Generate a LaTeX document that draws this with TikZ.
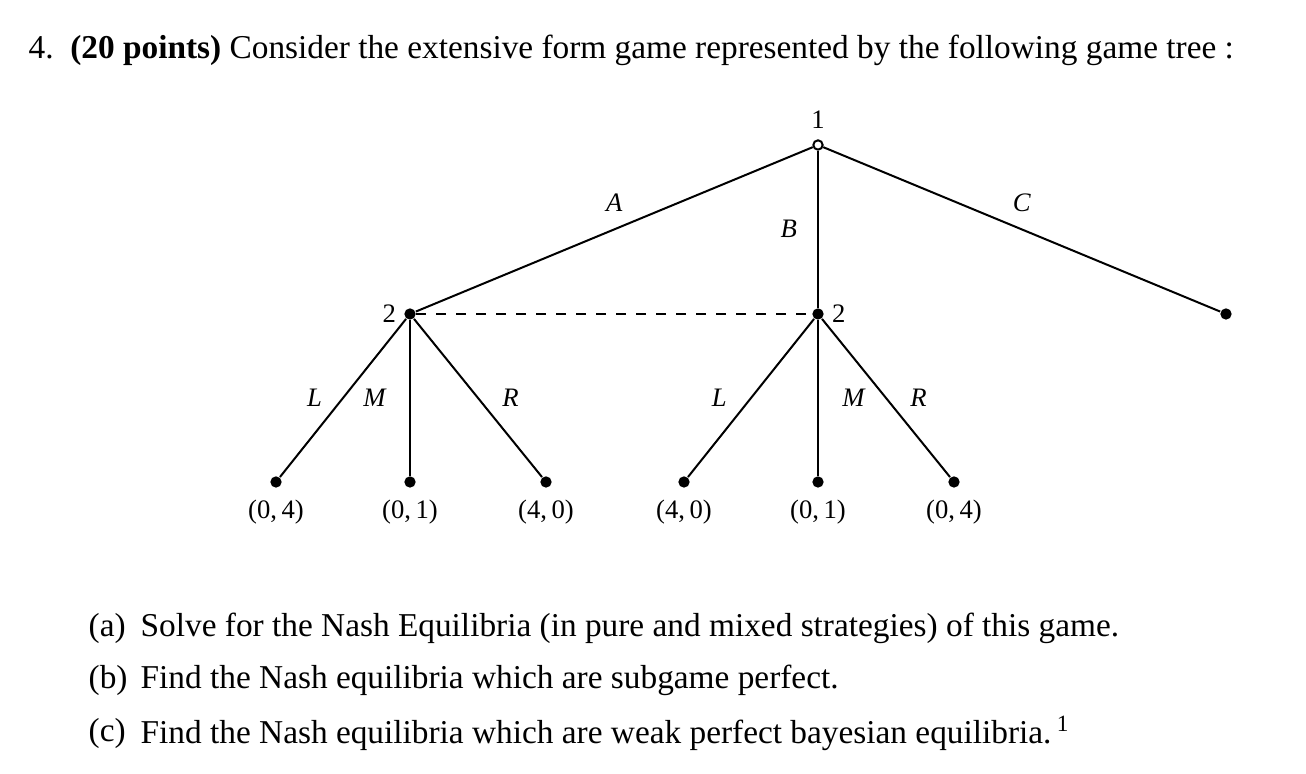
\documentclass[tikz,border=0pt]{standalone}
\usepackage{fontspec}
\setmainfont{Liberation Serif}
\usepackage{tikz}
\tikzset{
  decision/.style={circle,fill,inner sep=0pt,minimum size=3.4pt},
  rootnode/.style={circle,draw,fill=white,inner sep=0pt,minimum size=2.8pt,line width=0.6pt},
  payoff/.style={font=\footnotesize,inner sep=1pt},
  move/.style={font=\footnotesize\itshape,inner sep=2pt},
  branch/.style={line width=0.6pt},
}

\begin{document}
\begin{tikzpicture}[x=0.3pt,y=-0.3pt]
	\useasboundingbox (0,0) rectangle (1306,774);
	% question
	\node[anchor=west,inner sep=0pt] (question) at (28,50) {4.\ \ \textbf{(20 points)} Consider the extensive form game represented by the following game tree :};
	% tree
	\node[rootnode] (root) at (818,145) {};
	\node[payoff] (root label) at (818,120) {1};
	\node[decision] (p2 left) at (410,314) {};
	\node[decision] (p2 right) at (818,314) {};
	\node[decision] (end C) at (1226,314) {};
	\node[payoff,left=3pt] (p2 left label) at (p2 left) {2};
	\node[payoff,right=3pt] (p2 right label) at (p2 right) {2};
	\draw[branch] (root) -- node[move,above=3pt]{A} (p2 left);
	\draw[branch] (root) -- node[move,left=4pt]{B} (p2 right);
	\draw[branch] (root) -- node[move,above=3pt]{C} (end C);
	\draw[branch,dashed] (p2 left) -- (p2 right);
	\node[decision] (leaf1) at (276,482) {};
	\node[decision] (leaf2) at (410,482) {};
	\node[decision] (leaf3) at (546,482) {};
	\node[decision] (leaf4) at (684,482) {};
	\node[decision] (leaf5) at (818,482) {};
	\node[decision] (leaf6) at (954,482) {};
	\draw[branch] (p2 left) -- node[move,left=4pt]{L} (leaf1);
	\draw[branch] (p2 left) -- node[move,left=5pt]{M} (leaf2);
	\draw[branch] (p2 left) -- node[move,right=5pt]{R} (leaf3);
	\draw[branch] (p2 right) -- node[move,left=5pt]{L} (leaf4);
	\draw[branch] (p2 right) -- node[move,right=5pt]{M} (leaf5);
	\draw[branch] (p2 right) -- node[move,right=5pt]{R} (leaf6);
	\node[payoff] (pay1) at (276,512) {(0,\,4)};
	\node[payoff] (pay2) at (410,512) {(0,\,1)};
	\node[payoff] (pay3) at (546,512) {(4,\,0)};
	\node[payoff] (pay4) at (684,512) {(4,\,0)};
	\node[payoff] (pay5) at (818,512) {(0,\,1)};
	\node[payoff] (pay6) at (954,512) {(0,\,4)};
	% parts
	\node[anchor=west,inner sep=0pt] (part a) at (88,628) {(a)};
	\node[anchor=west,inner sep=0pt] (part b) at (88,680) {(b)};
	\node[anchor=west,inner sep=0pt] (part c) at (88,733) {(c)};
	\node[anchor=west,inner sep=0pt] (text a) at (140,628) {Solve for the Nash Equilibria (in pure and mixed strategies) of this game.};
	\node[anchor=west,inner sep=0pt] (text b) at (140,680) {Find the Nash equilibria which are subgame perfect.};
	\node[anchor=west,inner sep=0pt] (text c) at (140,733) {Find the Nash equilibria which are weak perfect bayesian equilibria.\,\textsuperscript{1}};
\end{tikzpicture}
\end{document}
